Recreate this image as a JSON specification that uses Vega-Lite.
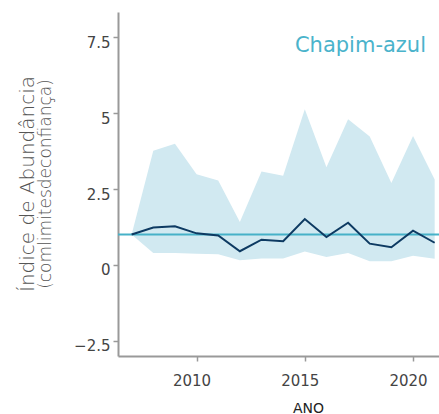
{
  "$schema": "https://vega.github.io/schema/vega-lite/v6.json",
  "width": 321,
  "height": 344,
  "autosize": "none",
  "padding": {"left": 118, "top": 12, "right": 0, "bottom": 58},
  "background": "white",
  "config": {"view": {"stroke": null}, "font": "DejaVu Sans"},
  "title": {
    "text": "Índice de Abundância",
    "subtitle": "(comlimitesdeconfiança)",
    "orient": "left",
    "anchor": "middle",
    "font": "DejaVu Sans",
    "fontSize": 20,
    "fontWeight": 200,
    "subtitleFont": "DejaVu Sans",
    "subtitleFontSize": 17,
    "subtitleFontWeight": 200,
    "color": "#555555",
    "subtitleColor": "#555555",
    "subtitlePadding": 0,
    "offset": 20
  },
  "data": {
    "values": [
      {"year": 2007, "index": 1.0, "lower": 1.0, "upper": 1.0},
      {"year": 2008, "index": 1.23, "lower": 0.39, "upper": 3.76},
      {"year": 2009, "index": 1.27, "lower": 0.39, "upper": 3.99},
      {"year": 2010, "index": 1.04, "lower": 0.37, "upper": 2.99},
      {"year": 2011, "index": 0.97, "lower": 0.35, "upper": 2.78},
      {"year": 2012, "index": 0.45, "lower": 0.15, "upper": 1.41},
      {"year": 2013, "index": 0.83, "lower": 0.21, "upper": 3.08},
      {"year": 2014, "index": 0.78, "lower": 0.21, "upper": 2.94},
      {"year": 2015, "index": 1.51, "lower": 0.44, "upper": 5.13},
      {"year": 2016, "index": 0.92, "lower": 0.26, "upper": 3.22},
      {"year": 2017, "index": 1.39, "lower": 0.39, "upper": 4.8},
      {"year": 2018, "index": 0.7, "lower": 0.12, "upper": 4.23},
      {"year": 2019, "index": 0.58, "lower": 0.12, "upper": 2.7},
      {"year": 2020, "index": 1.13, "lower": 0.3, "upper": 4.25},
      {"year": 2021, "index": 0.73, "lower": 0.2, "upper": 2.81}
    ]
  },
  "layer": [
    {
      "mark": {"type": "area", "color": "#d1e9f1", "opacity": 1},
      "encoding": {
        "x": {
          "field": "year",
          "type": "quantitative",
          "scale": {"domain": [2006.37, 2021.2], "nice": false, "zero": false},
          "axis": {
            "values": [2010, 2015, 2020],
            "format": "d",
            "grid": false,
            "domainColor": "#999999",
            "domainWidth": 2,
            "tickColor": "#999999",
            "tickWidth": 1.5,
            "tickSize": 5,
            "labelFont": "DejaVu Sans",
            "labelFontSize": 15,
            "labelFontWeight": "normal",
            "labelColor": "#444444",
            "labelPadding": 12,
            "labelOffset": -5,
            "title": "ANO",
            "titleFont": "DejaVu Sans",
            "titleFontSize": 14,
            "titleFontWeight": "normal",
            "titleColor": "#222222",
            "titleX": 190,
            "titleY": 56,
            "titleBaseline": "alphabetic"
          }
        },
        "y": {
          "field": "lower",
          "type": "quantitative",
          "scale": {"domain": [-3, 8.33], "nice": false, "zero": false},
          "axis": {
            "values": [-2.5, 0, 2.5, 5, 7.5],
            "format": ".2~f",
            "grid": false,
            "domainColor": "#999999",
            "domainWidth": 2,
            "tickColor": "#999999",
            "tickWidth": 1.5,
            "tickSize": 5,
            "labelFont": "DejaVu Sans",
            "labelFontSize": 15,
            "labelFontWeight": "normal",
            "labelColor": "#444444",
            "labelPadding": 3,
            "labelOffset": 5,
            "title": null
          }
        },
        "y2": {"field": "upper"}
      }
    },
    {
      "data": {"values": [{}]},
      "mark": {"type": "rule", "color": "#46b1c8", "strokeWidth": 2},
      "encoding": {"y": {"datum": 1}}
    },
    {
      "mark": {"type": "line", "color": "#0d3a62", "strokeWidth": 2},
      "encoding": {
        "x": {"field": "year", "type": "quantitative"},
        "y": {"field": "index", "type": "quantitative"}
      }
    },
    {
      "data": {"values": [{"label": "Chapim-azul"}]},
      "mark": {"type": "text", "align": "right", "baseline": "alphabetic", "font": "DejaVu Sans", "fontSize": 21, "color": "#4ab3cb"},
      "encoding": {
        "x": {"datum": 2020.6},
        "y": {"datum": 7.0},
        "text": {"field": "label"}
      }
    }
  ]
}
